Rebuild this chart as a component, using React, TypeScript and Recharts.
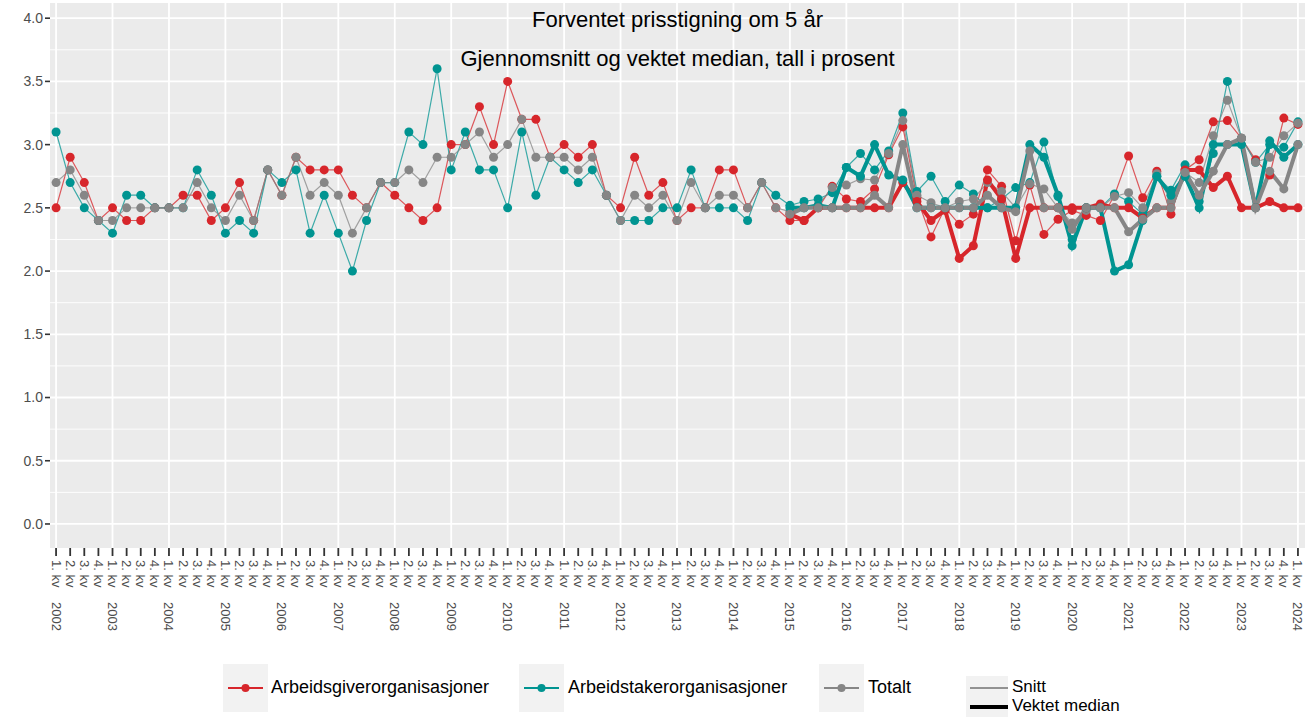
import { LineChart, Line, XAxis, YAxis, CartesianGrid, ReferenceLine } from 'recharts'

const years = [2002, 2003, 2004, 2005, 2006, 2007, 2008, 2009, 2010, 2011, 2012, 2013, 2014, 2015, 2016, 2017, 2018, 2019, 2020, 2021, 2022, 2023, 2024]
const kvartaler = ['1. kv', '2. kv', '3. kv', '4. kv']

// snitt, 1. kv 2002 - 1. kv 2024
const arbeidsgiverSnitt = [
  2.5, 2.9, 2.7, 2.4, 2.5, 2.4, 2.4, 2.5, 2.5, 2.6, 2.6, 2.4, 2.5, 2.7, 2.4, 2.8,
  2.6, 2.9, 2.8, 2.8, 2.8, 2.6, 2.5, 2.7, 2.6, 2.5, 2.4, 2.5, 3.0, 3.0, 3.3, 3.0,
  3.5, 3.2, 3.2, 2.9, 3.0, 2.9, 3.0, 2.6, 2.5, 2.9, 2.6, 2.7, 2.4, 2.5, 2.5, 2.8,
  2.8, 2.5, 2.7, 2.5, 2.4, 2.4, 2.5, 2.67, 2.57, 2.55, 2.65, 2.92, 3.14, 2.58, 2.27, 2.5,
  2.37, 2.45, 2.8, 2.67, 2.24, 2.68, 2.29, 2.41, 2.48, 2.44, 2.4, 2.6, 2.91, 2.58, 2.79, 2.45,
  2.8, 2.88, 3.18, 3.19, 3.05, 2.88, 2.76, 3.21, 3.16,
]
const arbeidstakerSnitt = [
  3.1, 2.7, 2.5, 2.4, 2.3, 2.6, 2.6, 2.5, 2.5, 2.5, 2.8, 2.6, 2.3, 2.4, 2.3, 2.8,
  2.7, 2.8, 2.3, 2.6, 2.3, 2.0, 2.4, 2.7, 2.7, 3.1, 3.0, 3.6, 2.8, 3.1, 2.8, 2.8,
  2.5, 3.1, 2.6, 2.9, 2.8, 2.7, 2.8, 2.6, 2.4, 2.4, 2.4, 2.5, 2.5, 2.8, 2.5, 2.5,
  2.5, 2.4, 2.7, 2.6, 2.52, 2.55, 2.57, 2.62, 2.82, 2.93, 2.8, 2.95, 3.25, 2.63, 2.75, 2.55,
  2.68, 2.61, 2.5, 2.57, 2.66, 2.7, 3.02, 2.59, 2.25, 2.5, 2.5, 2.61, 2.55, 2.45, 2.75, 2.64,
  2.84, 2.55, 2.93, 3.5, 3.05, 2.86, 3.0, 2.98, 3.18,
]
const totaltSnitt = [
  2.7, 2.8, 2.6, 2.4, 2.4, 2.5, 2.5, 2.5, 2.5, 2.5, 2.7, 2.5, 2.4, 2.6, 2.4, 2.8,
  2.6, 2.9, 2.6, 2.7, 2.6, 2.3, 2.5, 2.7, 2.7, 2.8, 2.7, 2.9, 2.9, 3.0, 3.1, 2.9,
  3.0, 3.2, 2.9, 2.9, 2.9, 2.8, 2.9, 2.6, 2.4, 2.6, 2.5, 2.6, 2.4, 2.7, 2.5, 2.6,
  2.6, 2.5, 2.7, 2.5, 2.47, 2.5, 2.52, 2.66, 2.68, 2.73, 2.72, 2.93, 3.19, 2.6, 2.54, 2.5,
  2.55, 2.57, 2.7, 2.63, 2.5, 2.69, 2.65, 2.5, 2.38, 2.48, 2.5, 2.59, 2.62, 2.5, 2.77, 2.55,
  2.78, 2.7, 3.07, 3.35, 3.05, 2.86, 2.9, 3.07, 3.17,
]

// vektet median, fra 1. kv 2015
const medianStart = 2015
const arbeidsgiverMedian = [
  2.45, 2.4, 2.5, 2.5, 2.5, 2.5, 2.5, 2.5, 2.7, 2.55, 2.4, 2.48, 2.1, 2.2, 2.72, 2.57,
  2.1, 2.5, 2.5, 2.5, 2.5, 2.5, 2.53, 2.5, 2.5, 2.42, 2.5, 2.5, 2.8, 2.8, 2.66, 2.75,
  2.5, 2.5, 2.55, 2.5, 2.5,
]
const arbeidstakerMedian = [
  2.5, 2.5, 2.52, 2.5, 2.82, 2.75, 3.0, 2.76, 2.72, 2.5, 2.5, 2.5, 2.5, 2.5, 2.5, 2.5,
  2.5, 3.0, 2.9, 2.6, 2.2, 2.5, 2.5, 2.0, 2.05, 2.4, 2.75, 2.6, 2.75, 2.5, 3.0, 3.0,
  3.0, 2.5, 3.03, 2.9, 3.0,
]
const totaltMedian = [
  2.45, 2.5, 2.5, 2.5, 2.5, 2.5, 2.6, 2.5, 3.0, 2.5, 2.5, 2.5, 2.5, 2.5, 2.6, 2.5,
  2.47, 2.95, 2.5, 2.5, 2.33, 2.5, 2.5, 2.5, 2.31, 2.41, 2.5, 2.5, 2.78, 2.6, 2.79, 3.0,
  3.05, 2.5, 2.79, 2.65, 3.0,
]

const yTicks = [0, 0.5, 1, 1.5, 2, 2.5, 3, 3.5, 4]
const yMinor = [0.25, 0.75, 1.25, 1.75, 2.25, 2.75, 3.25, 3.75]

const RED = '#d7262b'
const TEAL = '#009491'
const GREY = '#868686'

const labels: { kv: string; year: number | null }[] = []
years.forEach((y) => {
  kvartaler.forEach((kv, q) => {
    if (y === 2024 && q > 0) return
    labels.push({ kv, year: q === 0 ? y : null })
  })
})

const offset = (medianStart - years[0]) * 4
const rows = labels.map((l, i) => ({
  i,
  ag: arbeidsgiverSnitt[i],
  at: arbeidstakerSnitt[i],
  tot: totaltSnitt[i],
  agMed: i >= offset ? arbeidsgiverMedian[i - offset] : null,
  atMed: i >= offset ? arbeidstakerMedian[i - offset] : null,
  totMed: i >= offset ? totaltMedian[i - offset] : null,
}))

const xTicks = rows.map((r) => r.i)
const yearTicks = rows.filter((r) => labels[r.i].year !== null).map((r) => r.i)
const xDomain = [-0.43, 88.5]
const yDomain = [-0.19, 4.12]

const FONT = '"Liberation Sans", Arial, sans-serif'

function QuarterTick(props: any) {
  const { x, y, payload } = props
  const l = labels[payload.value]
  if (!l) return null
  return (
    <g transform={`translate(${x},${y})`}>
      <text transform="rotate(90)" x={2} y={0} dy="0.35em" fontSize={13} fill="#4d4d4d" fontFamily={FONT}>
        {l.kv}
      </text>
      {l.year !== null && (
        <text transform="rotate(90)" x={44} y={0} dy="0.35em" fontSize={13} fill="#4d4d4d" fontFamily={FONT}>
          {l.year}
        </text>
      )}
    </g>
  )
}

const margin = { top: 3, right: 5, left: 0, bottom: 69 }

function LegendKey({ left, color, text, textLeft }: { left: number; color: string; text: string; textLeft: number }) {
  return (
    <>
      <div style={{ position: 'absolute', left, top: 664, width: 45, height: 48, background: '#f2f2f2' }} />
      <svg style={{ position: 'absolute', left, top: 664 }} width={45} height={48}>
        <line x1={5} x2={40} y1={24} y2={24} stroke={color} strokeWidth={2} />
        <circle cx={22.5} cy={24} r={4} fill={color} />
      </svg>
      <div style={{ position: 'absolute', left: textLeft, top: 677, fontSize: 18, fontFamily: FONT, color: '#000', whiteSpace: 'nowrap' }}>
        {text}
      </div>
    </>
  )
}

export default function App() {
  return (
    <div style={{ position: 'absolute', left: 0, top: 0, width: 1310, height: 717, background: '#fff', overflow: 'hidden' }}>
      <div style={{ position: 'absolute', left: 0, top: 0 }}>
        <LineChart width={1310} height={717} data={rows} margin={margin}>
          <CartesianGrid fill="#ebebeb" horizontal={false} vertical={false} />
          {yMinor.map((v) => (
            <ReferenceLine key={'m' + v} y={v} stroke="#fff" strokeWidth={0.9} />
          ))}
          {yTicks.map((v) => (
            <ReferenceLine key={'M' + v} y={v} stroke="#fff" strokeWidth={1.8} />
          ))}
          {yearTicks.map((v) => (
            <ReferenceLine key={'x' + v} x={v} stroke="#fff" strokeWidth={1.8} />
          ))}
          <XAxis
            dataKey="i"
            type="number"
            domain={xDomain}
            ticks={xTicks}
            interval={0}
            allowDataOverflow
            height={100}
            axisLine={false}
            tickSize={8}
            tickLine={{ stroke: '#333', strokeWidth: 1.8 }}
            tick={<QuarterTick />}
          />
          <YAxis
            type="number"
            domain={yDomain}
            ticks={yTicks}
            allowDataOverflow
            width={50}
            axisLine={false}
            tickSize={5}
            tickLine={{ stroke: '#333', strokeWidth: 1.6 }}
            tickFormatter={(v: number) => v.toFixed(1)}
            tick={{ fontSize: 14, fill: '#4d4d4d', fontFamily: FONT }}
          />
        </LineChart>
      </div>
      <div style={{ position: 'absolute', left: 0, top: 0 }}>
        <LineChart width={1310} height={717} data={rows} margin={{ top: 3, right: 5, left: 50, bottom: 169 }}>
          <XAxis dataKey="i" type="number" domain={xDomain} allowDataOverflow hide />
          <YAxis type="number" domain={yDomain} allowDataOverflow hide />
          <Line dataKey="ag" stroke={RED} strokeWidth={1.2} strokeOpacity={0.75} dot={{ r: 4.5, fill: RED, stroke: 'none' }} isAnimationActive={false} />
          <Line dataKey="at" stroke={TEAL} strokeWidth={1.2} strokeOpacity={0.75} dot={{ r: 4.5, fill: TEAL, stroke: 'none' }} isAnimationActive={false} />
          <Line dataKey="tot" stroke={GREY} strokeWidth={1.2} strokeOpacity={0.75} dot={{ r: 4.5, fill: GREY, stroke: 'none' }} isAnimationActive={false} />
          <Line dataKey="agMed" stroke={RED} strokeWidth={4} dot={{ r: 4.5, fill: RED, stroke: 'none' }} isAnimationActive={false} />
          <Line dataKey="atMed" stroke={TEAL} strokeWidth={4} dot={{ r: 4.5, fill: TEAL, stroke: 'none' }} isAnimationActive={false} />
          <Line dataKey="totMed" stroke={GREY} strokeWidth={4} dot={{ r: 4.5, fill: GREY, stroke: 'none' }} isAnimationActive={false} />
        </LineChart>
      </div>
      <div style={{ position: 'absolute', left: 50, width: 1255, top: 7, textAlign: 'center', fontSize: 22, fontFamily: FONT, color: '#000' }}>
        Forventet prisstigning om 5 år
      </div>
      <div style={{ position: 'absolute', left: 50, width: 1255, top: 46, textAlign: 'center', fontSize: 22, fontFamily: FONT, color: '#000' }}>
        Gjennomsnitt og vektet median, tall i prosent
      </div>
      <LegendKey left={223} color={RED} text="Arbeidsgiverorganisasjoner" textLeft={271} />
      <LegendKey left={519} color={TEAL} text="Arbeidstakerorganisasjoner" textLeft={568} />
      <LegendKey left={819} color={GREY} text="Totalt" textLeft={868} />
      <div style={{ position: 'absolute', left: 966, top: 676, width: 42, height: 41, background: '#f2f2f2' }} />
      <svg style={{ position: 'absolute', left: 966, top: 676 }} width={42} height={41}>
        <line x1={4} x2={42} y1={12} y2={12} stroke="#000" strokeWidth={0.8} />
        <line x1={4} x2={42} y1={31} y2={31} stroke="#000" strokeWidth={4} />
      </svg>
      <div style={{ position: 'absolute', left: 1012, top: 677, fontSize: 17, fontFamily: FONT, lineHeight: '19px' }}>
        Snitt
        <br />
        Vektet median
      </div>
    </div>
  )
}
